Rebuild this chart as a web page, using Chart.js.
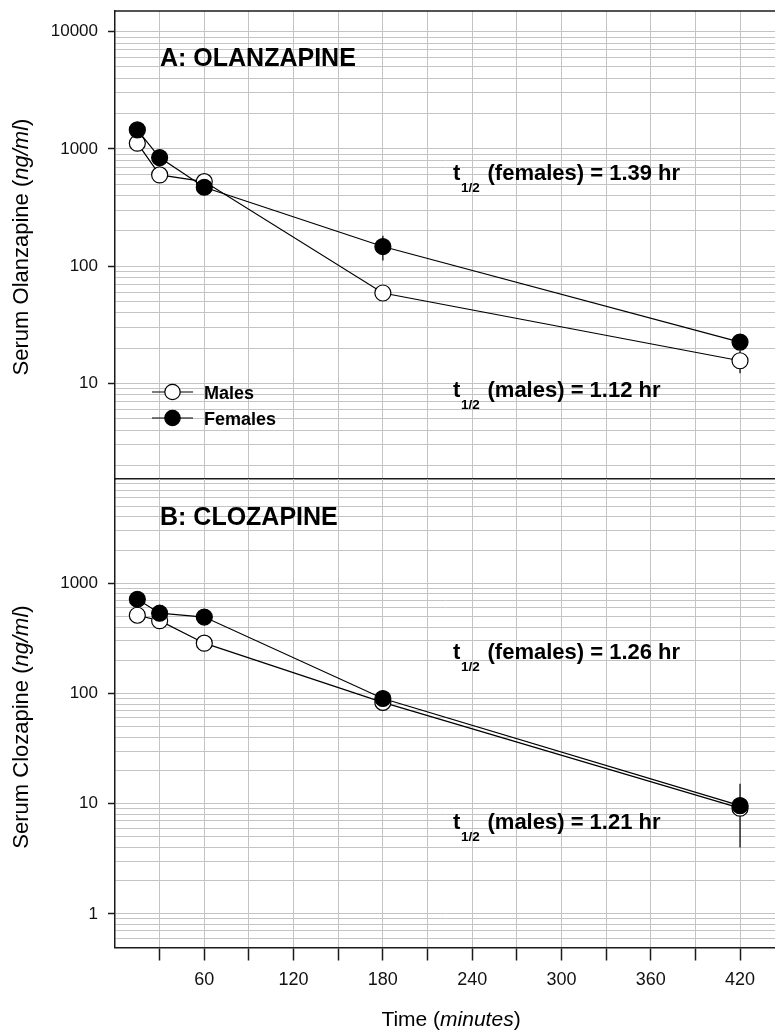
<!DOCTYPE html>
<html>
<head>
<meta charset="utf-8">
<script src="https://cdn.jsdelivr.net/npm/chart.js@4.4.1/dist/chart.umd.min.js"></script>
<style>
  html, body { margin: 0; padding: 0; background: #fff; }
  #wrap { position: relative; width: 775px; height: 1032px; overflow: hidden; }
  canvas { position: absolute; left: 0; }
  #topChart { top: 0; }
  #bottomChart { top: 478px; }
</style>
</head>
<body>
<div id="wrap">
  <canvas id="topChart" width="775" height="480"></canvas>
  <canvas id="bottomChart" width="775" height="554"></canvas>
</div>
<script>
// sampling times (minutes)
const times = [15, 30, 60, 180, 420];

// A: olanzapine (ng/ml), mean and SD
const olzMales = [1118, 600, 526, 59, 15.6];
const olzFemales = [1452, 843, 471, 147, 22.5];
const olzMalesSd = [0, 0, 0, 0, 3.4];
const olzFemalesSd = [0, 0, 0, 35, 0];

// B: clozapine (ng/ml)
const cloMales = [513, 458, 286, 83, 9.1];
const cloFemales = [716, 535, 494, 90, 9.6];
const cloMalesSd = [0, 0, 0, 0, 0];
const cloFemalesSd = [0, 0, 0, 0, 5.6];

const xTicks = [30, 60, 90, 120, 150, 180, 210, 240, 270, 300, 330, 360, 390, 420];
const xLabels = [60, 120, 180, 240, 300, 360, 420];
const olzDecades = [10, 100, 1000, 10000];
const cloDecades = [1, 10, 100, 1000];

const FONT = '"Liberation Sans", Arial, Helvetica, sans-serif';
const GRID = '#c4c4c4';
const INK = '#1a1a1a';
Chart.defaults.font.family = FONT;
Chart.defaults.color = '#111';

function logGrid(min, max) {
  const out = [];
  for (let e = Math.floor(Math.log10(min)); e <= Math.ceil(Math.log10(max)); e++) {
    for (let m = 1; m < 10; m++) {
      const v = m * Math.pow(10, e);
      if (v >= min && v <= max) out.push(v);
    }
  }
  return out;
}

function series(label, values, sd, fill) {
  return {
    label: label,
    data: times.map((t, i) => ({ x: t, y: values[i] })),
    sd: sd,
    borderColor: '#000',
    borderWidth: 1.2,
    pointRadius: 8,
    pointHoverRadius: 8,
    pointBorderWidth: 1.2,
    pointBorderColor: '#000',
    pointBackgroundColor: fill,
    tension: 0
  };
}

// vertical SD bars, under the markers
const errorBars = {
  id: 'errorBars',
  beforeDatasetsDraw(chart) {
    const ctx = chart.ctx, xs = chart.scales.x, ys = chart.scales.y;
    ctx.save();
    ctx.strokeStyle = '#000';
    ctx.lineWidth = 1.2;
    chart.data.datasets.forEach(ds => {
      ds.data.forEach((p, i) => {
        const s = ds.sd[i];
        if (!s) return;
        const x = xs.getPixelForValue(p.x);
        ctx.beginPath();
        ctx.moveTo(x, ys.getPixelForValue(p.y + s));
        ctx.lineTo(x, ys.getPixelForValue(Math.max(p.y - s, ys.min)));
        ctx.stroke();
      });
    });
    ctx.restore();
  }
};

function drawParts(ctx, parts, x, y) {
  parts.forEach(p => {
    ctx.font = p.font;
    ctx.fillText(p.text, x, y);
    x += ctx.measureText(p.text).width;
  });
}

function yTitle(ctx, name, cx, cy) {
  const parts = [
    { text: 'Serum ' + name + ' (', font: '22px ' + FONT },
    { text: 'ng/ml', font: 'italic 22px ' + FONT },
    { text: ')', font: '22px ' + FONT }
  ];
  let total = 0;
  parts.forEach(p => { ctx.font = p.font; total += ctx.measureText(p.text).width; });
  ctx.save();
  ctx.translate(cx, cy);
  ctx.rotate(-Math.PI / 2);
  ctx.textBaseline = 'middle';
  drawParts(ctx, parts, -total / 2, 0);
  ctx.restore();
}

function halfLife(ctx, who, val, x, y) {
  ctx.font = 'bold 22px ' + FONT;
  ctx.fillText('t', x, y);
  ctx.font = 'bold 13.5px ' + FONT;
  ctx.fillText('1/2', x + 8, y + 12);
  ctx.font = 'bold 22px ' + FONT;
  ctx.fillText('(' + who + ') = ' + val + ' hr', x + 34.5, y);
}

function panelText(cfg) {
  return {
    id: 'panelText',
    afterDraw(chart) {
      const ctx = chart.ctx, a = chart.chartArea;
      ctx.save();
      ctx.fillStyle = '#000';
      ctx.textAlign = 'left';
      ctx.textBaseline = 'alphabetic';
      if (cfg.topBorder) {
        ctx.strokeStyle = INK;
        ctx.lineWidth = 1.5;
        ctx.beginPath();
        ctx.moveTo(a.left, a.top);
        ctx.lineTo(a.right, a.top);
        ctx.stroke();
      }
      ctx.font = 'bold 25px ' + FONT;
      ctx.fillText(cfg.title, 160, cfg.titleY);
      halfLife(ctx, 'females', cfg.tF, 453, cfg.fY);
      halfLife(ctx, 'males', cfg.tM, 453, cfg.mY);
      yTitle(ctx, cfg.drug, 22, cfg.yTitleY);
      if (cfg.legend) {
        const rows = [chart.data.datasets[1], chart.data.datasets[0]];
        rows.forEach((ds, i) => {
          const y = 392 + i * 26;
          ctx.strokeStyle = '#000';
          ctx.lineWidth = 1.2;
          ctx.beginPath();
          ctx.moveTo(152, y);
          ctx.lineTo(193, y);
          ctx.stroke();
          ctx.beginPath();
          ctx.arc(172.5, y, 7.7, 0, Math.PI * 2);
          ctx.fillStyle = ds.pointBackgroundColor;
          ctx.fill();
          ctx.stroke();
          ctx.fillStyle = '#000';
          ctx.font = 'bold 18px ' + FONT;
          ctx.fillText(ds.label, 204, y + 6.5);
        });
      }
      if (cfg.xTitle) {
        const parts = [
          { text: 'Time (', font: '21px ' + FONT },
          { text: 'minutes', font: 'italic 21px ' + FONT },
          { text: ')', font: '21px ' + FONT }
        ];
        let total = 0;
        parts.forEach(p => { ctx.font = p.font; total += ctx.measureText(p.text).width; });
        drawParts(ctx, parts, 451 - total / 2, cfg.xTitleY);
      }
      ctx.restore();
    }
  };
}

function yScale(min, max, decades) {
  const grid = logGrid(min, max);
  return {
    type: 'logarithmic',
    min: min,
    max: max,
    afterBuildTicks: s => { s.ticks = grid.map(v => ({ value: v })); },
    afterFit: s => { s.width = 115; s.paddingTop = 0; s.paddingBottom = 0; },
    ticks: {
      autoSkip: false,
      padding: 10,
      font: { size: 17 },
      color: '#111',
      callback: v => (decades.includes(v) ? String(v) : '')
    },
    grid: {
      color: GRID,
      lineWidth: 1,
      tickLength: 7,
      tickWidth: 1.5,
      tickColor: c => (c.tick && decades.includes(c.tick.value) ? INK : 'rgba(0,0,0,0)')
    },
    border: { display: true, color: INK, width: 1.5 }
  };
}

function xScale(showLabels, height) {
  return {
    type: 'linear',
    min: 0,
    max: 443.5,
    afterBuildTicks: s => { s.ticks = xTicks.map(v => ({ value: v })); },
    afterFit: s => { s.height = height; s.paddingLeft = 0; s.paddingRight = 0; },
    ticks: {
      display: showLabels,
      autoSkip: false,
      maxRotation: 0,
      padding: 9,
      font: { size: 18 },
      color: '#111',
      callback: v => (xLabels.includes(v) ? String(v) : '')
    },
    grid: {
      color: GRID,
      lineWidth: 1,
      drawTicks: showLabels,
      tickLength: 13,
      tickWidth: 1.5,
      tickColor: INK
    },
    border: { display: true, color: INK, width: 1.5 }
  };
}

function makeChart(id, sets, yMin, yMax, decades, padding, showX, xHeight, text) {
  return new Chart(document.getElementById(id), {
    type: 'line',
    data: { datasets: sets },
    options: {
      responsive: false,
      animation: false,
      devicePixelRatio: 1,
      layout: { autoPadding: false, padding: padding },
      plugins: { legend: { display: false }, tooltip: { enabled: false } },
      scales: { x: xScale(showX, xHeight), y: yScale(yMin, yMax, decades) }
    },
    plugins: [errorBars, panelText(text)]
  });
}

// females first so they sit on top of the open male symbols
makeChart('topChart', [
  series('Females', olzFemales, olzFemalesSd, '#000'),
  series('Males', olzMales, olzMalesSd, '#fff')
], 1.53, 15000, olzDecades, { top: 11, right: 0, bottom: 1, left: 0 }, false, 0, {
  title: 'A: OLANZAPINE', titleY: 66, drug: 'Olanzapine', yTitleY: 247,
  tF: '1.39', fY: 180, tM: '1.12', mY: 397, legend: true, topBorder: true
});

makeChart('bottomChart', [
  series('Females', cloFemales, cloFemalesSd, '#000'),
  series('Males', cloMales, cloMalesSd, '#fff')
], 0.495, 8840, cloDecades, { top: 1, right: 0, bottom: 0, left: 0 }, true, 84.5, {
  title: 'B: CLOZAPINE', titleY: 47, drug: 'Clozapine', yTitleY: 249,
  tF: '1.26', fY: 181, tM: '1.21', mY: 351, legend: false, topBorder: false,
  xTitle: true, xTitleY: 548
});
</script>
</body>
</html>
